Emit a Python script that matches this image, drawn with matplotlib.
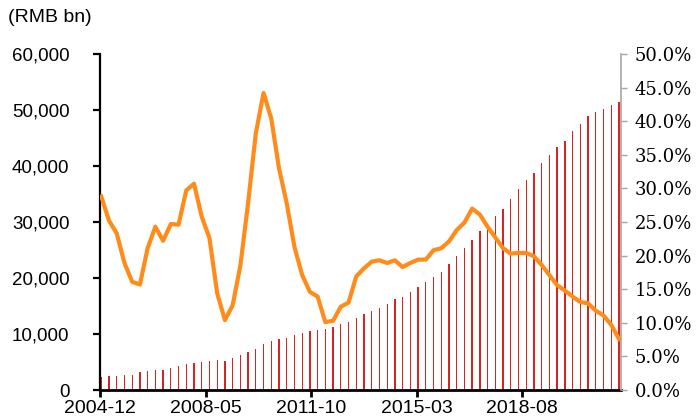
import matplotlib
matplotlib.use("Agg")
import matplotlib.pyplot as plt
from matplotlib.ticker import FuncFormatter, FixedLocator

# ---- data (quarterly, 2004-12 .. 2021-09) ----
start_year, start_month = 2004, 12
n_q = 68
quarters = []
for i in range(n_q):
    m = start_month - 1 + 3 * i
    quarters.append(f"{start_year + m // 12}-{m % 12 + 1:02d}")

balance = [2375, 2500, 2560, 2680, 2740, 3210, 3390, 3570, 3630, 3990,
           4290, 4700, 4820, 5000, 5180, 5360, 5240, 5650, 6190, 6790,
           7320, 8150, 8750, 9110, 9300, 9820, 10240, 10540, 10710, 10950,
           11310, 11790, 12080, 12800, 13570, 14110, 14670, 15360, 16250, 16670,
           17440, 18390, 19290, 20180, 21010, 22500, 23930, 25300, 26790, 28400,
           29590, 31130, 32260, 34170, 35830, 37500, 38690, 40600, 41960, 43330,
           44460, 46250, 47500, 48870, 49640, 50120, 50950, 51430]

growth = [28.8, 25.2, 23.3, 18.9, 16.1, 15.7, 21.1, 24.3, 22.2, 24.7,
          24.6, 29.7, 30.7, 25.8, 22.6, 14.4, 10.4, 12.6, 18.5, 27.8,
          38.2, 44.2, 40.4, 33.0, 27.8, 21.3, 17.1, 14.6, 13.9, 10.1,
          10.3, 12.4, 13.0, 16.9, 18.1, 19.1, 19.3, 18.9, 19.3, 18.3,
          18.9, 19.4, 19.4, 20.8, 21.1, 22.1, 23.8, 24.9, 27.0, 26.1,
          24.3, 22.7, 21.1, 20.3, 20.4, 20.4, 19.9, 18.6, 17.1, 15.6,
          14.8, 13.9, 13.1, 12.9, 11.8, 11.1, 9.7, 7.6]

tick_labels = ["2004-12", "2008-05", "2011-10", "2015-03", "2018-08"]

# ---- positions on a monthly axis ----
def month_index(s):
    y, m = map(int, s.split("-"))
    return (y - start_year) * 12 + (m - start_month)

x = [month_index(q) + 0.5 for q in quarters]
tick_pos = [month_index(t) for t in tick_labels]

fig = plt.figure(figsize=(7.0, 4.19), dpi=100)
ax = fig.add_axes([100/700, 1 - 390/419, (621 - 100)/700, (390 - 54)/419])

ax.bar(x, balance, width=0.5, color="#D42424", linewidth=0, zorder=2)
ax.set_xlim(0, 202.3)
ax.set_ylim(0, 60000)
ax.yaxis.set_major_locator(FixedLocator(range(0, 60001, 10000)))
ax.yaxis.set_major_formatter(FuncFormatter(lambda v, p: f"{int(v):,}"))
ax.set_xticks(tick_pos)
ax.set_xticklabels(tick_labels)

for s in ["top", "right"]:
    ax.spines[s].set_visible(False)
ax.spines["left"].set_linewidth(1.6)
ax.spines["bottom"].set_linewidth(2.0)
ax.tick_params(axis="y", direction="out", length=5, width=1.6, labelsize=13.5, pad=17)
ax.tick_params(axis="x", direction="out", length=5, width=2.0, labelsize=14, pad=2.5)
for lab in ax.get_yticklabels() + ax.get_xticklabels():
    lab.set_fontfamily("Liberation Sans")

ax2 = ax.twinx()
ax2.plot(x, growth, color="#FF8C1A", linewidth=3.0, solid_joinstyle="round", zorder=3)
ax2.set_ylim(0, 50)
ax2.yaxis.set_major_locator(FixedLocator([i * 5 for i in range(11)]))
ax2.yaxis.set_major_formatter(FuncFormatter(lambda v, p: f"{v:.1f}%"))
for s in ["top", "left", "bottom"]:
    ax2.spines[s].set_visible(False)
ax2.spines["right"].set_color("#A6A6A6")
ax2.spines["right"].set_linewidth(1.2)
ax2.tick_params(axis="y", direction="out", length=4, width=1.0, color="#A6A6A6",
                labelsize=13, pad=6)
for lab in ax2.get_yticklabels():
    lab.set_fontfamily("DejaVu Serif")

fig.text(8/700, 1 - 18/419, "(RMB bn)", fontsize=14, family="Liberation Sans",
         va="center", ha="left")

fig.savefig("out.png", dpi=100)
